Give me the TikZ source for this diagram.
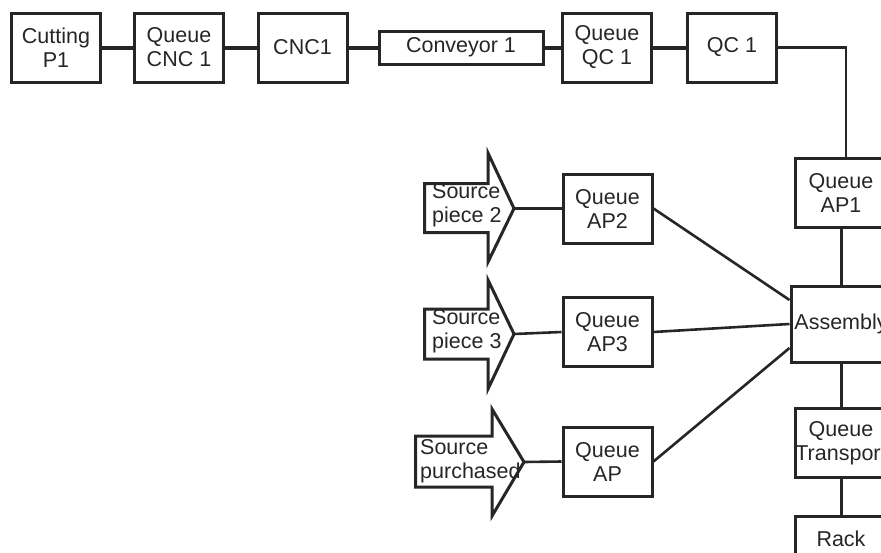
\documentclass[tikz,border=0pt]{standalone}
\usepackage{fontspec}
\setmainfont{Liberation Sans}
\definecolor{ink}{RGB}{38,38,38}
\tikzset{
  stationbox/.style={draw=ink, line width=3pt, rectangle, inner sep=0pt,
    minimum width=89pt, minimum height=69pt, align=center, text=ink,
    font=\fontsize{21.5}{24}\selectfont},
  srcshape/.style={draw=ink, line width=3pt, fill=white, line join=miter},
  srctext/.style={anchor=west, align=left, inner sep=0pt, text=ink,
    font=\fontsize{21.5}{24}\selectfont},
  heavylink/.style={draw=ink, line width=4pt},
  link/.style={draw=ink, line width=2.6pt},
}
\begin{document}
\begin{tikzpicture}[x=1pt,y=-1pt]
\useasboundingbox (0,0) rectangle (881,552);
\clip (0,0) rectangle (881,552);

% main production line
\node[stationbox] (cut)  at (56,47.5)    {Cutting\\P1};
\node[stationbox] (qcnc) at (179,47.5)   {Queue\\CNC 1};
\node[stationbox] (cnc)  at (302.5,47.5) {CNC1};
\node[stationbox, minimum width=164pt, minimum height=33pt] (conv) at (461,47.5) {Conveyor 1};
\node[stationbox] (qqc)  at (607,47.5)   {Queue\\QC 1};
\node[stationbox] (qc)   at (732,47.5)   {QC 1};

% assembly column
\node[stationbox, minimum width=92pt] (ap1)  at (841,193) {Queue\\AP1};
\node[stationbox, minimum width=100pt, minimum height=76pt] (asm) at (841,324) {Assembly};
\node[stationbox, minimum width=92pt] (qt)   at (841,443) {Queue\\Transport};
\node[stationbox, minimum width=92pt, anchor=north] (rack) at (841,514.5) {Rack\\\phantom{Rack}};

% part queues
\node[stationbox] (ap2) at (607.5,208.5) {Queue\\AP2};
\node[stationbox] (ap3) at (607.5,332)   {Queue\\AP3};
\node[stationbox] (ap)  at (607.5,461.5) {Queue\\AP};

% sources
\draw[srcshape] (424.5,183.5) -- (488,183.5) -- (488,153) -- (514,208.5)
  -- (488,262) -- (488,232.5) -- (424.5,232.5) -- cycle;
\coordinate (s2) at (514,208.5);
\node[srctext] (s2t) at (432,205) {Source\\piece 2};

\draw[srcshape] (424.5,309) -- (488,309) -- (488,280) -- (514,334)
  -- (488,389) -- (488,359) -- (424.5,359) -- cycle;
\coordinate (s3) at (514,334);
\node[srctext] (s3t) at (432,331.5) {Source\\piece 3};

\draw[srcshape] (415.5,436) -- (492,436) -- (492,409) -- (524,462)
  -- (492,516) -- (492,487) -- (415.5,487) -- cycle;
\coordinate (sp) at (524,462);
\node[srctext] (spt) at (420,461) {Source\\purchased};

% connectors
\draw[heavylink] (cut) -- (qcnc);
\draw[heavylink] (qcnc) -- (cnc);
\draw[heavylink] (cnc) -- (conv);
\draw[heavylink] (conv) -- (qqc);
\draw[heavylink] (qqc) -- (qc);
\draw[link] (qc.east) -| ([xshift=5pt]ap1.north);
\draw[link, line width=3pt] (ap1) -- (asm);
\draw[link, line width=3pt] (asm) -- (qt);
\draw[link, line width=3pt] (qt) -- (rack);

\draw[heavylink, line width=3.6pt] (s2) -- (ap2.west |- s2);
\draw[link] (s3) -- (ap3.west);
\draw[link] (sp) -- (ap.west);

\draw[link] (ap2.east) -- ([yshift=24pt]asm.west);
\draw[link] (ap3.east) -- (asm.west);
\draw[link] (ap.east) -- ([yshift=-24pt]asm.west);
\end{tikzpicture}
\end{document}
